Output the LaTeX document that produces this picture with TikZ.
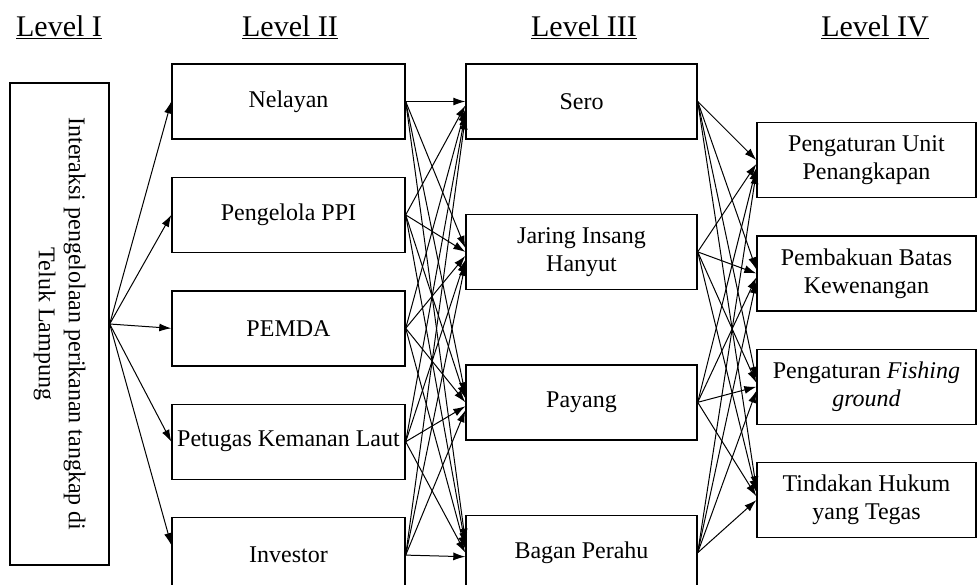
\documentclass[tikz,border=0pt]{standalone}
\usepackage{fontspec}
\setmainfont{Liberation Serif}
\usetikzlibrary{positioning,arrows.meta,calc}
\tikzset{
  box/.style    = {draw, line width=1.4pt, align=center, inner sep=2pt, minimum height=75pt, font=\fontsize{24}{28}\selectfont},
  lvtwo/.style  = {box, minimum width=233pt},
  lvthree/.style= {box, minimum width=231pt},
  lvfour/.style = {box, minimum width=219pt},
  head/.style   = {font=\fontsize{30}{32}\selectfont},
  flow/.style   = {-{Latex[length=12pt,width=8pt]}, line width=1pt},
}

\begin{document}
\begin{tikzpicture}[x=1pt,y=-1pt]
  \useasboundingbox (0,0) rectangle (980,584);
  % headers
  \node[head] (h1) at (59,27)  {\underline{Level I}};
  \node[head] (h2) at (290,27) {\underline{Level II}};
  \node[head] (h3) at (584,27) {\underline{Level III}};
  \node[head] (h4) at (875,27) {\underline{Level IV}};
  % level I (rotated, so its north anchor is the right side)
  \node[box, rotate=-90, minimum width=482pt, minimum height=99pt, font=\fontsize{24}{30}\selectfont] (inter) at (59.5,324)
    {Interaksi pengelolaan perikanan tangkap di\\Teluk Lampung};
  % level II
  \node[lvtwo] (nel) at (288.5,101.5) {Nelayan};
  \node[lvtwo, below=37pt of nel] (ppi) {Pengelola PPI};
  \node[lvtwo, below=37pt of ppi] (pemda) {PEMDA};
  \node[lvtwo, below=37pt of pemda] (petugas) {Petugas Kemanan Laut};
  \node[lvtwo, below=37pt of petugas] (inv) {Investor};
  % level III
  \node[lvthree] (sero) at (581.5,101.5) {Sero};
  \node[lvthree, below=74pt of sero] (jaring) {Jaring Insang\\Hanyut};
  \node[lvthree, below=74pt of jaring] (payang) {Payang};
  \node[lvthree, below=74pt of payang] (bagan) {Bagan Perahu};
  % level IV
  \node[lvfour] (unit) at (866.5,160) {Pengaturan Unit\\Penangkapan};
  \node[lvfour, below=37pt of unit] (batas) {Pembakuan Batas\\Kewenangan};
  \node[lvfour, below=37pt of batas] (fishing) {Pengaturan \textit{Fishing}\\\textit{ground}};
  \node[lvfour, below=37pt of fishing] (hukum) {Tindakan Hukum\\yang Tegas};
  % arrows
  \foreach \a in {nel,ppi,pemda,petugas}
    \draw[flow] (inter.north) -- (\a.west);
  \draw[flow] (inter.north) -- ($(inv.west)+(0,-10)$);
  \foreach \a [count=\i] in {nel,ppi,pemda,petugas,inv}
    \foreach \b [count=\j] in {sero,jaring,payang,bagan}
      \draw[flow] (\a.east) -- ($(\b.west)+(0,{4*(\i-\j)})$);
  \foreach \a [count=\i] in {sero,jaring,payang,bagan}
    \foreach \b [count=\j] in {unit,batas,fishing,hukum}
      \draw[flow] (\a.east) -- ($(\b.west)+(0,{4*(\i-\j)})$);
\end{tikzpicture}
\end{document}
